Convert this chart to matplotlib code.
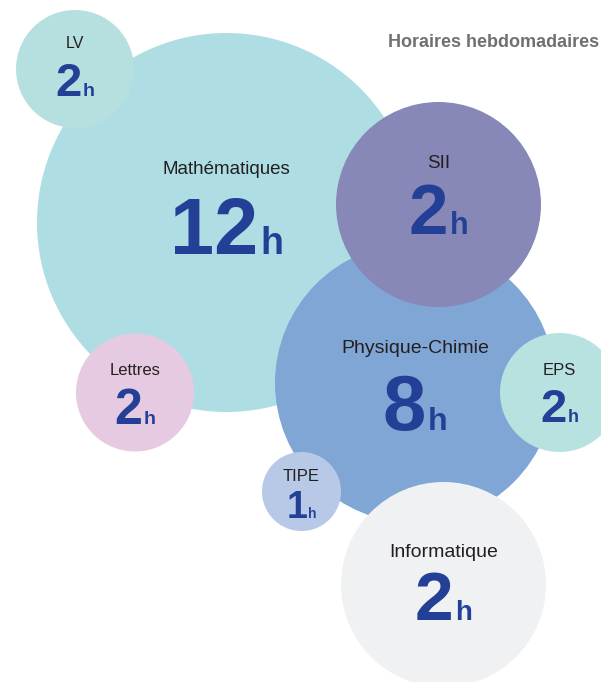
import matplotlib
matplotlib.use("Agg")
import matplotlib.pyplot as plt
from matplotlib.patches import Circle

# ---- data ----
subjects = ["Mathématiques", "Physique-Chimie", "SII", "LV", "Lettres", "EPS", "TIPE", "Informatique"]
hours = [12, 8, 2, 2, 2, 2, 1, 2]
unit = "h"
title = "Horaires hebdomadaires"

# ---- layout / style (pixels, y downward) ----
centers = [(226.5, 222.5), (415, 383), (438.5, 204.5), (75, 69), (135, 392.5),
           (559.5, 392.5), (301.5, 491.5), (443.5, 584.5)]
radii = [189.5, 140, 102.5, 59, 59, 59.5, 39.5, 102.5]
colors = ["#AEDDE3", "#80A6D5", "#8787B8", "#B6E0E0", "#E6CAE1",
          "#B8E2E0", "#B7C9E7", "#F0F1F3"]
label_size = [13.5, 14, 13.5, 11.5, 12, 12, 12, 14]
label_dy = [-48, -30, -36, -21, -17.5, -17.5, -10.5, -27.5]
num_size = [57, 56, 51, 34, 36, 34, 27, 50]
unit_size = [27, 23, 22, 14, 14, 13, 10, 20]
num_dy = [31, 47, 30, 27, 31.5, 29, 27, 35.5]
num_color = "#233F96"
label_color = "#231F20"
FONT = "Liberation Sans"

W, H = 601, 682
fig = plt.figure(figsize=(W / 100, H / 100), dpi=100)
ax = fig.add_axes([0, 0, 1, 1])
ax.set_xlim(0, W)
ax.set_ylim(H, 0)
ax.axis("off")

for (cx, cy), r, c in zip(centers, radii, colors):
    ax.add_patch(Circle((cx, cy), r, facecolor=c, edgecolor="none"))

fig.canvas.draw()
renderer = fig.canvas.get_renderer()

tt = ax.text(388, 47, title, fontsize=13.3, fontweight="bold", color="#707072",
             family=FONT, ha="left", va="baseline")
# keep the title inside the canvas
tw = tt.get_window_extent(renderer).width
if 388 + tw > W - 2:
    tt.set_fontsize(13.3 * (W - 2 - 388) / tw)

for i, name in enumerate(subjects):
    cx, cy = centers[i]
    ax.text(cx, cy + label_dy[i], name, fontsize=label_size[i], color=label_color,
            family=FONT, ha="center", va="baseline")
    tn = ax.text(0, cy + num_dy[i], str(hours[i]), fontsize=num_size[i],
                 fontweight="bold", color=num_color, family=FONT,
                 ha="left", va="baseline")
    tu = ax.text(0, cy + num_dy[i], unit, fontsize=unit_size[i],
                 fontweight="bold", color=num_color, family=FONT,
                 ha="left", va="baseline")
    wn = tn.get_window_extent(renderer).width
    wu = tu.get_window_extent(renderer).width
    gap = num_size[i] * 0.04
    total = wn + gap + wu
    x0 = cx - total / 2
    tn.set_x(x0)
    tu.set_x(x0 + wn + gap)

fig.savefig("out.png", dpi=100)
